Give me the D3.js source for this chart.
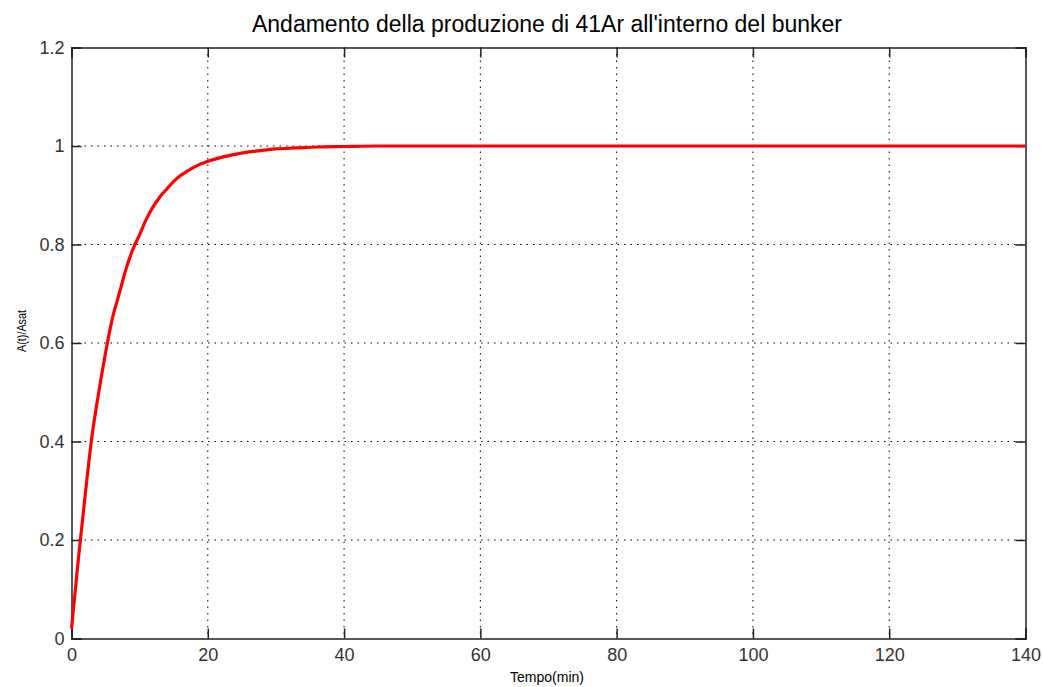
<!DOCTYPE html>
<html><head><meta charset="utf-8">
<script src="https://cdn.jsdelivr.net/npm/d3@7"></script>
<style>body{margin:0;background:#fff;}svg{display:block;}</style>
</head><body>
<script>
const tVals = [0,0.5,1,2,3,4,5,6,7,8,9,10,11,12,13,14,15,16,17,18,19,20,22,24,26,28,30,33,36,40,45,50,60,70,80,90,100,110,120,130,140];
const aVals = [0.02,0.09,0.16,0.29,0.41,0.50,0.58,0.65,0.70,0.75,0.79,0.82,0.852,0.877,0.897,0.913,0.928,0.94,0.949,0.957,0.964,0.969,0.977,0.983,0.988,0.991,0.994,0.996,0.998,0.999,1,1,1,1,1,1,1,1,1,1,1];
const xTicks = [0,20,40,60,80,100,120,140];
const yTicks = [0,0.2,0.4,0.6,0.8,1,1.2];
const titleText = "Andamento della produzione di 41Ar all'interno del bunker";
const xLabel = "Tempo(min)";
const yLabel = "A(t)/Asat";

const W=1043,H=687;
const L=71.5,R=1025.5,T=47.5,B=638.5;
const svg=d3.select("body").append("svg").attr("width",W).attr("height",H);
const x=d3.scaleLinear().domain([0,140]).range([L,R]);
const y=d3.scaleLinear().domain([0,1.2]).range([B,T]);
const font="'Liberation Sans', Arial, sans-serif";

// grid
const g=svg.append("g");
g.selectAll(".vg").data(xTicks.slice(1,-1)).enter().append("line")
 .attr("x1",d=>x(d)).attr("x2",d=>x(d)).attr("y1",T).attr("y2",B)
 .attr("stroke","#000").attr("stroke-width",1).attr("stroke-dasharray","1.5,5");
g.selectAll(".hg").data(yTicks.slice(1,-1)).enter().append("line")
 .attr("y1",d=>y(d)).attr("y2",d=>y(d)).attr("x1",L).attr("x2",R)
 .attr("stroke","#000").attr("stroke-width",1).attr("stroke-dasharray","1.5,5");

// axes
const xa=svg.append("g").attr("transform",`translate(0,${B})`)
 .call(d3.axisBottom(x).tickValues(xTicks).tickSize(-10).tickPadding(10).tickFormat(d3.format("d")));
const ya=svg.append("g").attr("transform",`translate(${L},0)`)
 .call(d3.axisLeft(y).tickValues(yTicks).tickSize(-10).tickPadding(7).tickFormat(d=>d===0?"0":(d===1?"1":d3.format(".1f")(d))));
const xt=svg.append("g").attr("transform",`translate(0,${T})`)
 .call(d3.axisTop(x).tickValues(xTicks).tickSize(-10).tickFormat(""));
const yr=svg.append("g").attr("transform",`translate(${R},0)`)
 .call(d3.axisRight(y).tickValues(yTicks).tickSize(-10).tickFormat(""));
[xa,ya,xt,yr].forEach(a=>{
  a.selectAll("path").attr("stroke","#222").attr("stroke-width",1.5);
  a.selectAll("line").attr("stroke","#222").attr("stroke-width",1.5);
  a.selectAll("text").attr("font-family",font).attr("font-size",18).attr("fill","#333");
});

// curve
svg.append("path").datum(tVals.map((t,i)=>[t,aVals[i]]))
 .attr("d",d3.line().x(d=>x(d[0])).y(d=>y(d[1])).curve(d3.curveMonotoneX))
 .attr("fill","none").attr("stroke","#ff0000").attr("stroke-width",3.2);

// text
svg.append("text").attr("x",547).attr("y",32).attr("text-anchor","middle")
 .attr("font-family",font).attr("font-size",23).attr("fill","#000").text(titleText);
svg.append("text").attr("x",547).attr("y",682).attr("text-anchor","middle")
 .attr("font-family",font).attr("font-size",14).attr("fill","#000").text(xLabel);
svg.append("text").attr("transform",`translate(26,331) rotate(-90)`).attr("text-anchor","middle")
 .attr("font-family",font).attr("font-size",12.5).attr("textLength",42).attr("lengthAdjust","spacingAndGlyphs")
 .attr("fill","#000").text(yLabel);
</script>
</body></html>
